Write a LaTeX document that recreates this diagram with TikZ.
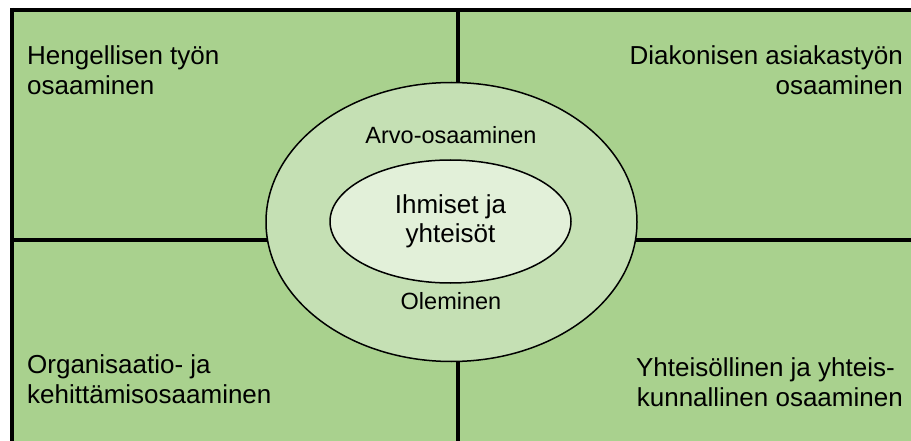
\documentclass[tikz,border=0pt]{standalone}
\usepackage{fontspec}
\setmainfont{Liberation Sans}
\usepackage{xcolor}
\definecolor{fieldgreen}{RGB}{169,209,142}
\definecolor{ringgreen}{RGB}{197,224,180}
\definecolor{coregreen}{RGB}{226,240,217}
\usetikzlibrary{shapes.geometric}
\usetikzlibrary{positioning}

\begin{document}
\begin{tikzpicture}[x=1pt,y=-1pt,
      corner style/.style={inner sep=0pt,font=\fontsize{26}{30}\selectfont},
      ring style/.style={ellipse,draw=black,line width=1.5pt,fill=ringgreen,
        minimum width=371pt,minimum height=279pt,inner sep=0pt},
      core style/.style={ellipse,draw=black,line width=1.5pt,fill=coregreen,
        minimum width=241pt,minimum height=123pt,inner sep=0pt,align=center,
        font=\fontsize{26}{29}\selectfont},
      ring label/.style={inner sep=0pt,anchor=base,font=\fontsize{23.5}{27}\selectfont},
      grid line/.style={line width=4pt,black}
      ]
      \useasboundingbox (0,0) rectangle (911,441);
      \clip (0,0) rectangle (911,441);
      \fill[fieldgreen] (12,10) rectangle (911,441);

      % table lines
      \draw[grid line] (10,10) -- (911,10);
      \draw[grid line] (12,8) -- (12,441);
      \draw[grid line] (10,240) -- (911,240);
      \draw[grid line] (458,10) -- (458,441);

      % four fields
      \node[corner style,anchor=north west,align=left] (spirit) at (27,45) {Hengellisen työn\\osaaminen};
      \node[corner style,anchor=north east,align=right] (diacon) at (903,45) {Diakonisen asiakastyön\\osaaminen};
      \node[corner style,anchor=north west,align=left] (organ) at (27,354) {Organisaatio- ja\\kehittämisosaaminen};
      \node[corner style,anchor=north east,align=right] (commun) at (903,357) {Yhteisöllinen ja yhteis-\hspace*{8pt}\\kunnallinen osaaminen};

      % rings in the middle
      \node[ring style] (outer) at (451.5,222) {};
      \node[core style] (inner) at (450.5,221.5) {Ihmiset ja\\yhteisöt};
      \node[ring label] (value) at (451,144) {Arvo-osaaminen};
      \node[ring label] (being) at (451,309) {Oleminen};
    \end{tikzpicture}
\end{document}
